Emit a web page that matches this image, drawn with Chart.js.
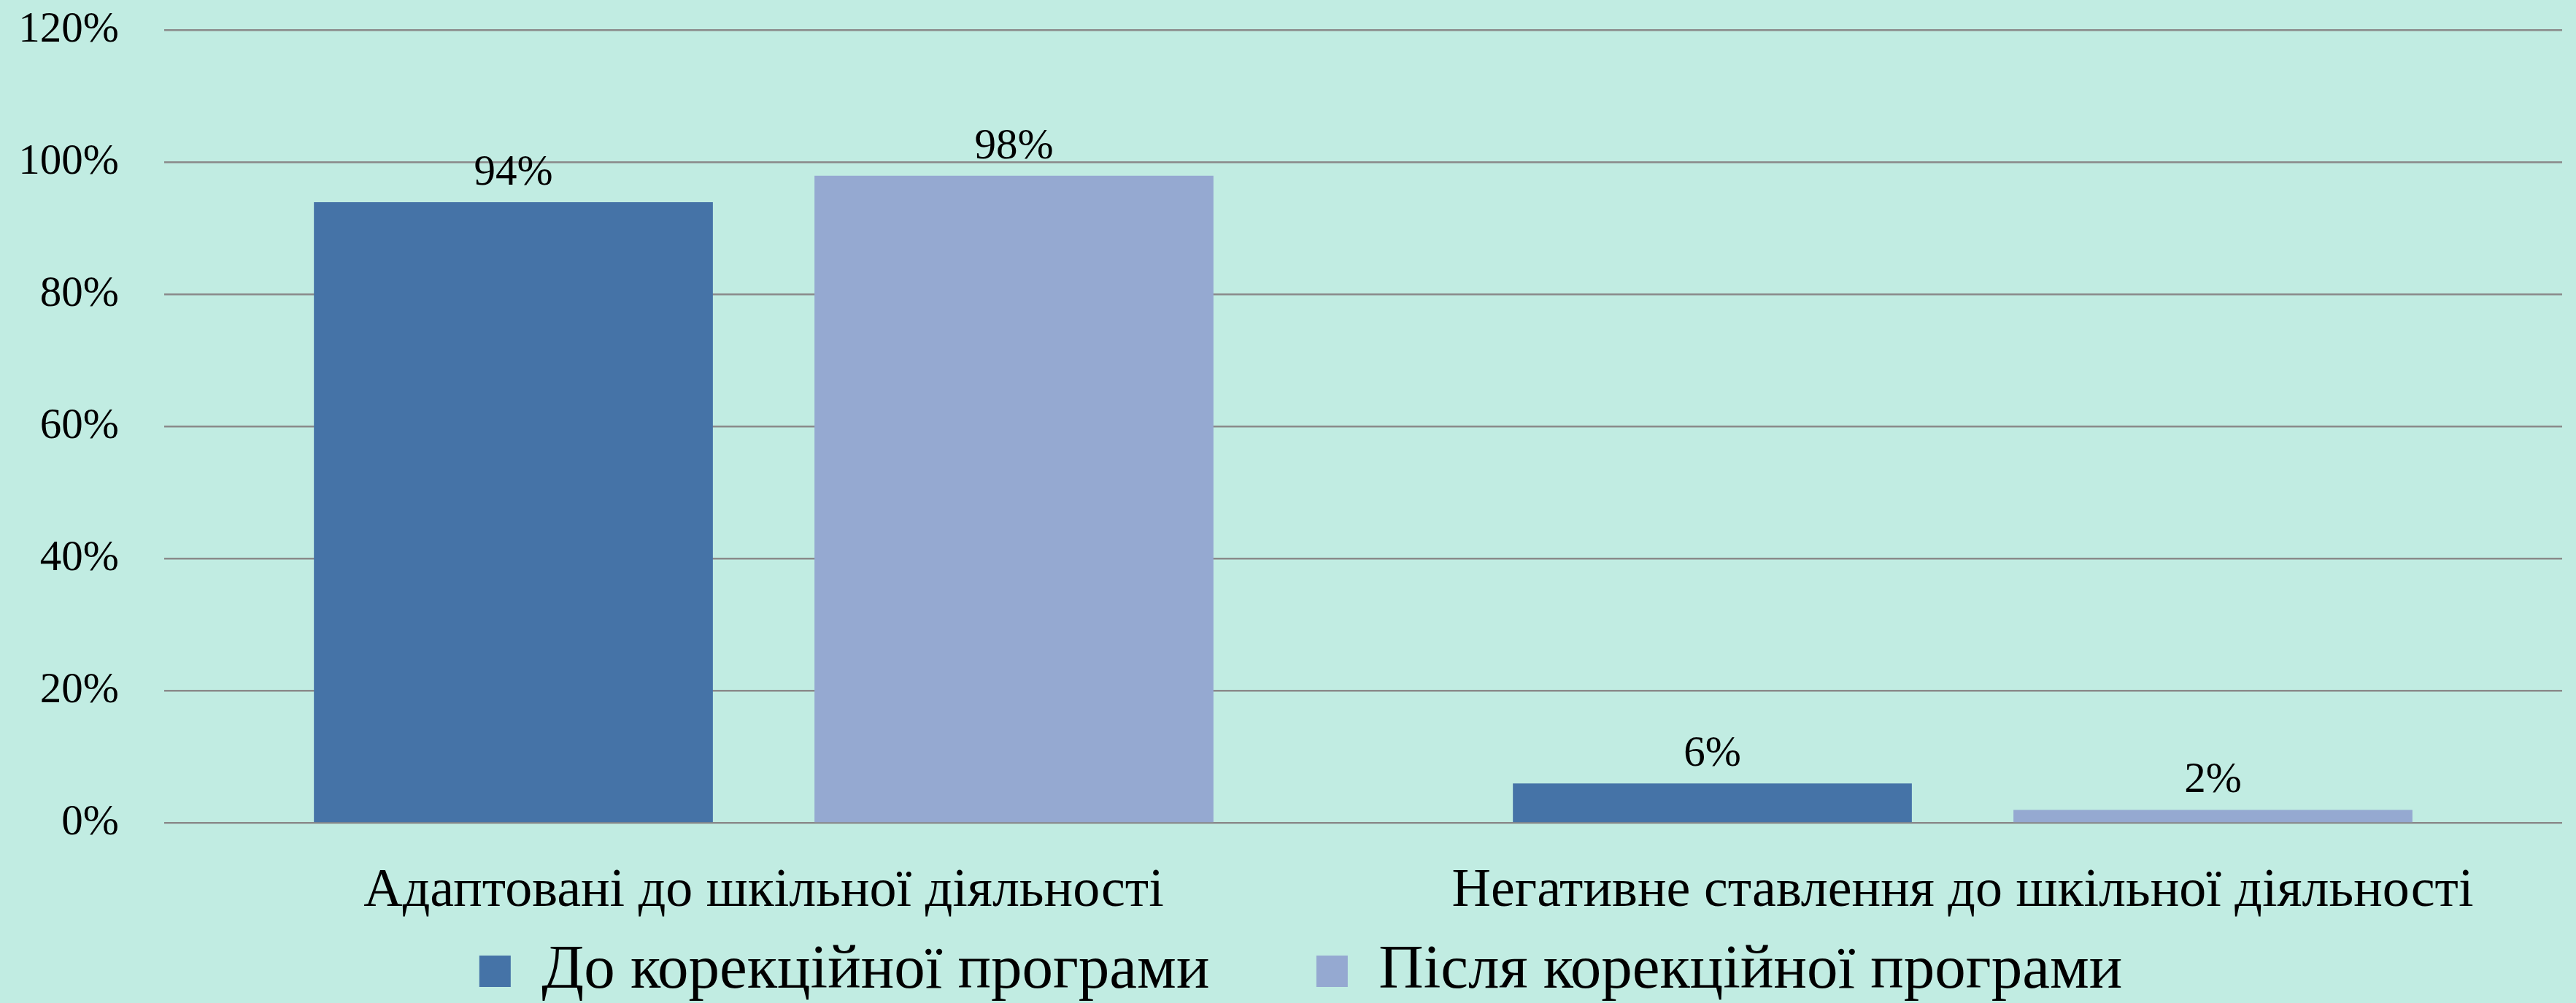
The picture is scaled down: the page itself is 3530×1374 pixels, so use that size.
<!DOCTYPE html>
<html>
<head>
<meta charset="utf-8">
<script src="https://cdn.jsdelivr.net/npm/chart.js@4.4.1/dist/chart.umd.min.js"></script>
<style>
    html, body { margin: 0; padding: 0; background: #C1ECE2; overflow: hidden; }
    #wrap { width: 3530px; height: 1374px; }
    canvas { display: block; }
</style>
</head>
<body>
<div id="wrap"><canvas id="chart" width="3530" height="1374"></canvas></div>
<script>
const categories = ['Адаптовані до шкільної діяльності', 'Негативне ставлення до шкільної діяльності'];
const seriesNames = ['До корекційної програми', 'Після корекційної програми'];
const beforeValues = [94, 6];
const afterValues = [98, 2];
const yTicks = [0, 20, 40, 60, 80, 100, 120];

const BG = '#C1ECE2';
const FONT = "'Liberation Serif', 'Times New Roman', serif";
const H = 1374;
const zeroY = 1127.5;           // where the 0% line sits
const legFont = 85, legPad = 146.5;
const xAxisH = 14;
const padBottom = H - (zeroY + xAxisH + legFont + legPad + 10);
const legShift = 27;

Chart.defaults.font.family = FONT;
Chart.defaults.color = '#000';

// background, legend nudge and value labels above bars
const barLabels = {
    id: 'barLabels',
    afterLayout(chart) {
        chart.legend.left += legShift;
        chart.legend.right += legShift;
    },
    beforeDraw(chart) {
        const ctx = chart.ctx;
        ctx.save();
        ctx.fillStyle = BG;
        ctx.fillRect(0, 0, chart.width, chart.height);
        ctx.restore();
    },
    afterDatasetsDraw(chart) {
        const ctx = chart.ctx;
        ctx.save();
        ctx.font = '59px ' + FONT;
        ctx.fillStyle = '#000';
        ctx.textAlign = 'center';
        ctx.textBaseline = 'alphabetic';
        chart.data.datasets.forEach((ds, i) => {
            chart.getDatasetMeta(i).data.forEach((bar, j) => {
                ctx.fillText(ds.data[j] + '%', bar.x, bar.y - 24);
            });
        });
        ctx.restore();
    }
};

const data = {
    labels: categories,
    datasets: [{
        label: seriesNames[0],
        data: beforeValues,
        backgroundColor: '#4573A7',
        borderWidth: 0
    }, {
        label: seriesNames[1],
        data: afterValues,
        backgroundColor: '#95A9D1',
        borderWidth: 0
    }]
};

const config = {
    type: 'bar',
    data: data,
    options: {
        responsive: false,
        animation: false,
        devicePixelRatio: 1,
        layout: {
            padding: { left: 0, right: 19, top: 41.7, bottom: padBottom }
        },
        datasets: {
            bar: {
                categoryPercentage: 0.835,
                barPercentage: 0.797
            }
        },
        scales: {
            x: {
                grid: { display: false, drawTicks: false },
                border: { display: false },
                ticks: {
                    font: { size: 74 },
                    mirror: true,
                    padding: -138,
                    maxRotation: 0,
                    autoSkip: false
                },
                afterFit: function (scale) { scale.height = xAxisH; }
            },
            y: {
                min: 0,
                max: 120,
                afterBuildTicks: function (scale) {
                    scale.ticks = yTicks.map(v => ({ value: v }));
                },
                grid: {
                    color: '#8A8A8A',
                    lineWidth: 2.6,
                    drawTicks: true,
                    tickLength: 62,
                    tickColor: 'rgba(0,0,0,0)'
                },
                border: { display: false },
                ticks: {
                    font: { size: 59 },
                    padding: 0,
                    callback: v => v + '%'
                },
                afterFit: function (scale) { scale.width = 225; }
            }
        },
        plugins: {
            legend: {
                position: 'bottom',
                labels: {
                    font: { size: legFont },
                    boxWidth: 43,
                    boxHeight: 43,
                    padding: legPad
                }
            },
            tooltip: { enabled: false }
        }
    },
    plugins: [barLabels]
};

window.mainChart = new Chart(document.getElementById('chart'), config);
</script>
</body>
</html>
